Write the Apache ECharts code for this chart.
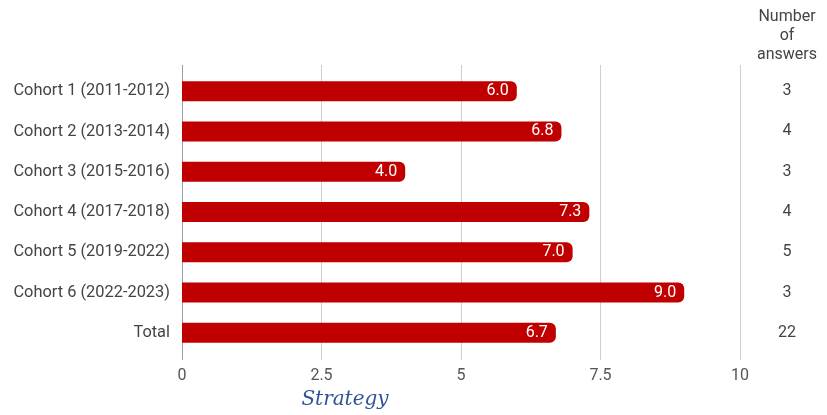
<!DOCTYPE html>
<html><head><meta charset="utf-8">
<script src="https://cdn.jsdelivr.net/npm/echarts@6/dist/echarts.min.js"></script>
<style>html,body{margin:0;padding:0;background:#fff}#c{width:827px;height:415px}</style>
</head><body><div id="c"></div>
<script>
const categories = ["Cohort 1 (2011-2012)","Cohort 2 (2013-2014)","Cohort 3 (2015-2016)","Cohort 4 (2017-2018)","Cohort 5 (2019-2022)","Cohort 6 (2022-2023)","Total"];
const scores = [6.0, 6.8, 4.0, 7.3, 7.0, 9.0, 6.7];
const answers = [3, 4, 3, 4, 5, 3, 22];
const xTicks = [0, 2.5, 5, 7.5, 10];

const chart = echarts.init(document.getElementById('c'));
chart.setOption({
  animation: false,
  grid: [
    {left: 182, right: 87, top: 71, bottom: 62},
    {left: 182, right: 87, top: 65, bottom: 55}
  ],
  xAxis: [{
    type: 'value', min: 0, max: 10, interval: 2.5, gridIndex: 0,
    axisLine: {show: false}, axisTick: {show: false}, splitLine: {show: false},
    axisLabel: {color: '#555', fontSize: 16, fontFamily: 'Roboto', margin: 15,
      formatter: v => xTicks.includes(v) ? String(v) : ''}
  }, {
    type: 'value', min: 0, max: 10, interval: 2.5, gridIndex: 1,
    axisLine: {show: false}, axisTick: {show: false}, axisLabel: {show: false},
    splitLine: {lineStyle: {color: ['#9e9e9e', '#cfcfcf', '#cfcfcf', '#cfcfcf', '#cfcfcf'], width: 1}}
  }],
  yAxis: [{
    type: 'category', data: categories, inverse: true, gridIndex: 0,
    axisLine: {show: false}, axisTick: {show: false},
    axisLabel: {color: '#444', fontSize: 16.4, fontFamily: 'Roboto', margin: 12}
  }, {
    type: 'category', data: answers.map(String), inverse: true, position: 'right', gridIndex: 0,
    axisLine: {show: false}, axisTick: {show: false},
    axisLabel: {color: '#444', fontSize: 16, fontFamily: 'Roboto', margin: 47, align: 'center'}
  }, {
    type: 'category', data: [], gridIndex: 1, show: false
  }],
  series: [{
    type: 'bar', data: scores, barWidth: 20, xAxisIndex: 0, yAxisIndex: 0,
    itemStyle: {color: '#c00000', borderRadius: [0, 6, 6, 0]},
    label: {show: true, position: 'insideRight', color: '#fff', fontSize: 16, fontFamily: 'Roboto',
      distance: 8, formatter: p => p.value.toFixed(1)}
  }],
  graphic: [
    {type: 'text', x: 787, y: 7, style: {text: 'Number\nof\nanswers', fill: '#444', fontSize: 16,
      fontFamily: 'Roboto', lineHeight: 19, align: 'center'}},
    {type: 'text', x: 345, y: 390, style: {text: 'Strategy', fill: '#2f5597', fontSize: 20,
      fontFamily: 'DejaVu Serif', fontStyle: 'italic', align: 'center'}}
  ]
});
</script></body></html>
